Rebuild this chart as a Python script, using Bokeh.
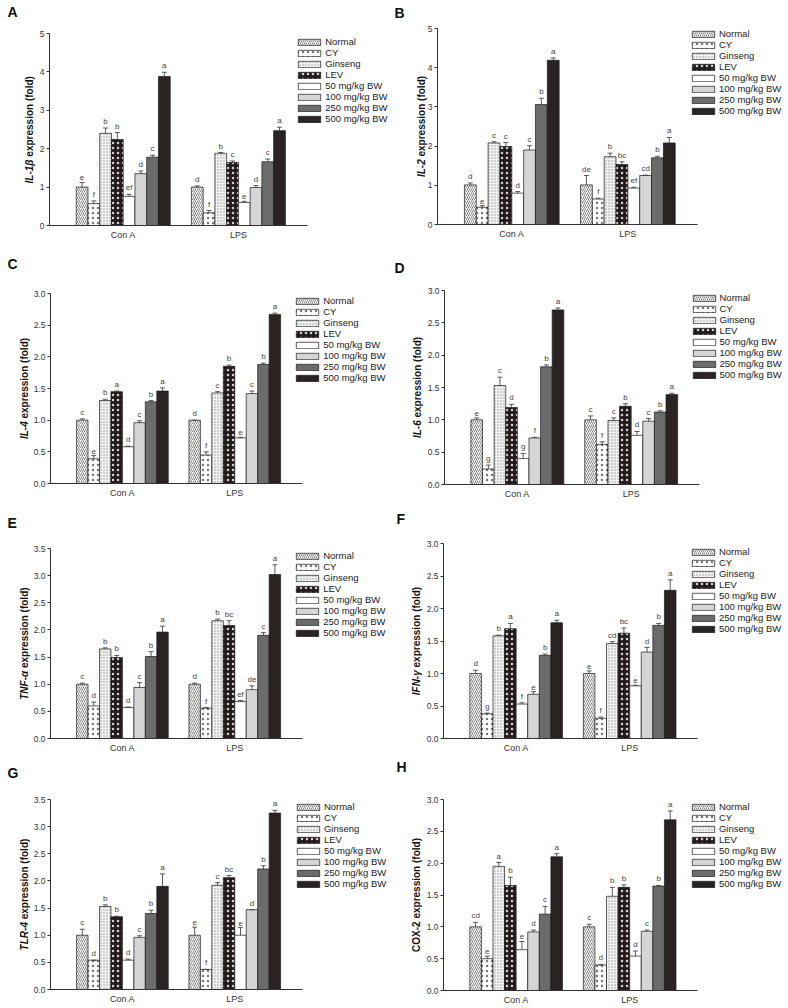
import math
from bokeh.plotting import figure
from bokeh.models import (Range1d, FixedTicker, Label, Whisker, TeeHead,
                          ColumnDataSource, NumeralTickFormatter)
from bokeh.layouts import column, row
from bokeh.embed import file_html
from bokeh.resources import INLINE
from bokeh.core.properties import value

# ---------------- data ----------------
groups = ["Con A", "LPS"]
series = ["Normal", "CY", "Ginseng", "LEV", "50 mg/kg BW", "100 mg/kg BW",
          "250 mg/kg BW", "500 mg/kg BW"]

ticks_int5 = [0, 1, 2, 3, 4, 5]
ticks_30 = [0.0, 0.5, 1.0, 1.5, 2.0, 2.5, 3.0]
ticks_35 = [0.0, 0.5, 1.0, 1.5, 2.0, 2.5, 3.0, 3.5]

# A  IL-1beta
il1b_cona = [1.00, 0.57, 2.40, 2.24, 0.76, 1.35, 1.78, 3.88]
il1b_cona_err = [0.12, 0.07, 0.14, 0.18, 0.05, 0.07, 0.05, 0.11]
il1b_cona_sig = ["e", "f", "b", "b", "ef", "d", "c", "a"]
il1b_lps = [1.00, 0.33, 1.88, 1.64, 0.60, 0.99, 1.66, 2.47]
il1b_lps_err = [0.03, 0.06, 0.02, 0.04, 0.03, 0.05, 0.07, 0.09]
il1b_lps_sig = ["d", "f", "b", "c", "e", "d", "c", "a"]

# B  IL-2
il2_cona = [1.01, 0.44, 2.08, 1.99, 0.80, 1.90, 3.06, 4.19]
il2_cona_err = [0.05, 0.04, 0.03, 0.10, 0.04, 0.11, 0.16, 0.06]
il2_cona_sig = ["d", "e", "c", "c", "d", "c", "b", "a"]
il2_lps = [1.01, 0.65, 1.73, 1.53, 0.93, 1.25, 1.70, 2.08]
il2_lps_err = [0.24, 0.02, 0.09, 0.07, 0.02, 0.01, 0.04, 0.14]
il2_lps_sig = ["de", "f", "b", "bc", "ef", "cd", "b", "a"]

# C  IL-4
il4_cona = [1.00, 0.39, 1.31, 1.45, 0.58, 0.96, 1.29, 1.46]
il4_cona_err = [0.02, 0.05, 0.02, 0.01, 0.01, 0.03, 0.02, 0.05]
il4_cona_sig = ["c", "e", "b", "a", "d", "c", "b", "a"]
il4_lps = [1.00, 0.45, 1.43, 1.85, 0.72, 1.42, 1.88, 2.67]
il4_lps_err = [0.00, 0.05, 0.02, 0.02, 0.01, 0.04, 0.02, 0.02]
il4_lps_sig = ["d", "f", "c", "b", "e", "c", "b", "a"]

# D  IL-6
il6_cona = [1.00, 0.24, 1.53, 1.19, 0.40, 0.72, 1.82, 2.70]
il6_cona_err = [0.03, 0.06, 0.13, 0.05, 0.08, 0.01, 0.03, 0.03]
il6_cona_sig = ["e", "g", "c", "d", "g", "f", "b", "a"]
il6_lps = [1.00, 0.62, 0.99, 1.21, 0.76, 0.98, 1.12, 1.39]
il6_lps_err = [0.06, 0.04, 0.04, 0.04, 0.06, 0.04, 0.02, 0.02]
il6_lps_sig = ["c", "f", "c", "b", "d", "c", "b", "a"]

# E  TNF-alpha
tnf_cona = [1.00, 0.60, 1.65, 1.49, 0.57, 0.94, 1.51, 1.96]
tnf_cona_err = [0.02, 0.07, 0.02, 0.04, 0.01, 0.09, 0.09, 0.11]
tnf_cona_sig = ["c", "d", "b", "b", "d", "c", "b", "a"]
tnf_lps = [1.00, 0.56, 2.17, 2.08, 0.68, 0.90, 1.90, 3.02]
tnf_lps_err = [0.02, 0.01, 0.03, 0.09, 0.02, 0.07, 0.05, 0.18]
tnf_lps_sig = ["d", "f", "b", "bc", "ef", "de", "c", "a"]

# F  IFN-gamma
ifn_cona = [1.00, 0.38, 1.58, 1.69, 0.53, 0.68, 1.28, 1.78]
ifn_cona_err = [0.05, 0.01, 0.01, 0.08, 0.02, 0.04, 0.02, 0.04]
ifn_cona_sig = ["d", "g", "b", "a", "f", "e", "b", "a"]
ifn_lps = [1.00, 0.31, 1.46, 1.62, 0.81, 1.33, 1.74, 2.28]
ifn_lps_err = [0.04, 0.02, 0.03, 0.08, 0.01, 0.07, 0.03, 0.16]
ifn_lps_sig = ["e", "f", "cd", "bc", "e", "d", "b", "a"]

# G  TLR-4
tlr_cona = [1.00, 0.54, 1.53, 1.34, 0.54, 0.96, 1.40, 1.90]
tlr_cona_err = [0.11, 0.00, 0.03, 0.01, 0.02, 0.03, 0.06, 0.23]
tlr_cona_sig = ["c", "d", "b", "b", "d", "c", "b", "a"]
tlr_lps = [1.00, 0.37, 1.92, 2.06, 1.00, 1.47, 2.22, 3.25]
tlr_lps_err = [0.15, 0.00, 0.05, 0.04, 0.14, 0.00, 0.06, 0.05]
tlr_lps_sig = ["e", "f", "c", "bc", "e", "d", "b", "a"]

# H  COX-2
cox_cona = [1.00, 0.50, 1.95, 1.65, 0.64, 0.92, 1.20, 2.10]
cox_cona_err = [0.07, 0.04, 0.06, 0.13, 0.13, 0.03, 0.12, 0.05]
cox_cona_sig = ["cd", "e", "a", "b", "e", "d", "c", "a"]
cox_lps = [1.00, 0.40, 1.48, 1.62, 0.54, 0.93, 1.64, 2.68]
cox_lps_err = [0.04, 0.01, 0.14, 0.04, 0.08, 0.02, 0.01, 0.14]
cox_lps_sig = ["c", "d", "b", "b", "d", "c", "b", "a"]

PANELS = [
    dict(letter="A", gene="IL-1β", italic=True, ymax=5, ticks=ticks_int5, fmt="0",
         cona=il1b_cona, cona_err=il1b_cona_err, cona_sig=il1b_cona_sig,
         lps=il1b_lps, lps_err=il1b_lps_err, lps_sig=il1b_lps_sig),
    dict(letter="B", gene="IL-2", italic=True, ymax=5, ticks=ticks_int5, fmt="0",
         cona=il2_cona, cona_err=il2_cona_err, cona_sig=il2_cona_sig,
         lps=il2_lps, lps_err=il2_lps_err, lps_sig=il2_lps_sig),
    dict(letter="C", gene="IL-4", italic=True, ymax=3.0, ticks=ticks_30, fmt="0.0",
         cona=il4_cona, cona_err=il4_cona_err, cona_sig=il4_cona_sig,
         lps=il4_lps, lps_err=il4_lps_err, lps_sig=il4_lps_sig),
    dict(letter="D", gene="IL-6", italic=True, ymax=3.0, ticks=ticks_30, fmt="0.0",
         cona=il6_cona, cona_err=il6_cona_err, cona_sig=il6_cona_sig,
         lps=il6_lps, lps_err=il6_lps_err, lps_sig=il6_lps_sig),
    dict(letter="E", gene="TNF-α", italic=True, ymax=3.5, ticks=ticks_35, fmt="0.0",
         cona=tnf_cona, cona_err=tnf_cona_err, cona_sig=tnf_cona_sig,
         lps=tnf_lps, lps_err=tnf_lps_err, lps_sig=tnf_lps_sig),
    dict(letter="F", gene="IFN-γ", italic=True, ymax=3.0, ticks=ticks_30, fmt="0.0",
         cona=ifn_cona, cona_err=ifn_cona_err, cona_sig=ifn_cona_sig,
         lps=ifn_lps, lps_err=ifn_lps_err, lps_sig=ifn_lps_sig),
    dict(letter="G", gene="TLR-4", italic=True, ymax=3.5, ticks=ticks_35, fmt="0.0",
         cona=tlr_cona, cona_err=tlr_cona_err, cona_sig=tlr_cona_sig,
         lps=tlr_lps, lps_err=tlr_lps_err, lps_sig=tlr_lps_sig),
    dict(letter="H", gene="COX-2", italic=False, ymax=3.0, ticks=ticks_30, fmt="0.0",
         cona=cox_cona, cona_err=cox_cona_err, cona_sig=cox_cona_sig,
         lps=cox_lps, lps_err=cox_lps_err, lps_sig=cox_lps_sig),
]

# ---------------- layout (page pixel positions) ----------------
FONT = "Liberation Sans"
COL_X = [0, 394]
ROW_Y = [0, 252, 506, 758]
ROW_H = [252, 254, 252, 250]
FIG_W = 394
# axis x, axis end, frame top, frame bottom, legend glyph left, legend first row centre,
# title centre x, letter left, letter centre y
LAYOUT = {
    "A": dict(ax=49, ae=307, top=33, bot=225, lgx=298, lgy=41.7, tx=29, lx=7, ly=11),
    "B": dict(ax=437, ae=697, top=28, bot=224, lgx=691.7, lgy=33.7, tx=421, lx=394, ly=12),
    "C": dict(ax=50, ae=301.7, top=293, bot=483, lgx=296, lgy=300.7, tx=24, lx=7, ly=263),
    "D": dict(ax=444, ae=699, top=290, bot=484, lgx=692.3, lgy=297.7, tx=416.5, lx=394, ly=267),
    "E": dict(ax=50, ae=301.7, top=548, bot=738, lgx=296, lgy=555.7, tx=24, lx=7, ly=522),
    "F": dict(ax=443, ae=697.3, top=543, bot=738, lgx=691.7, lgy=551.7, tx=415.5, lx=396, ly=518),
    "G": dict(ax=50, ae=301.7, top=799, bot=989, lgx=296.7, lgy=806.7, tx=24, lx=7, ly=772),
    "H": dict(ax=443, ae=697.3, top=799, bot=990, lgx=691.7, lgy=806.7, tx=415.5, lx=396, ly=766),
}
GENE_W = {"IL-1β": 23.5, "IL-2": 17.8, "IL-4": 17.8, "IL-6": 17.8, "TNF-α": 28.8,
          "IFN-γ": 24.9, "TLR-4": 28.3, "COX-2": 30.6}
EXPR_W = 80.6
GAP = 2.8

STYLES = [
    dict(fill_color="white", hatch_pattern="/", hatch_color="#333333", hatch_scale=4, hatch_weight=0.6),
    dict(fill_color="white", hatch_pattern="dot", hatch_color="#777777", hatch_scale=5, hatch_weight=0.1),
    dict(fill_color="#f2f2f2", hatch_pattern="dot", hatch_color="#999999", hatch_scale=3, hatch_weight=0.3),
    dict(fill_color="#231b1b", hatch_pattern="dot", hatch_color="#ffffff", hatch_scale=5, hatch_weight=0.1,
         hatch_alpha=0.8),
    dict(fill_color="white"),
    dict(fill_color="#d5d5d5"),
    dict(fill_color="#6b6b6b"),
    dict(fill_color="#2a2323"),
]

XSTART, XEND = 0.36, 2.6
BW = 0.102
GROUP_X = [1.0, 2.0]


def make_panel(spec, lay, cx, ry, rh):
    ppu = (lay["ae"] - lay["ax"]) / (XEND - XSTART)
    x0 = XSTART - (lay["ax"] - cx) / ppu
    x1 = XSTART + (cx + FIG_W - lay["ax"]) / ppu
    upp = spec["ymax"] / (lay["bot"] - lay["top"])
    y0 = -(ry + rh - lay["bot"]) * upp
    y1 = spec["ymax"] + (lay["top"] - ry) * upp

    p = figure(width=FIG_W, height=rh, output_backend="svg", toolbar_location=None,
               title=None, x_range=Range1d(x0, x1), y_range=Range1d(y0, y1),
               min_border_left=0, min_border_right=0,
               min_border_top=0, min_border_bottom=0)
    p.outline_line_color = None
    p.xgrid.visible = False
    p.ygrid.visible = False

    xs_all, tops_all, upp_all, sig_all = [], [], [], []
    for i, name in enumerate(series):
        off = (i - 3.5) * BW
        xs = [g + off for g in GROUP_X]
        tops = [spec["cona"][i], spec["lps"][i]]
        errs = [spec["cona_err"][i], spec["lps_err"][i]]
        sigs = [spec["cona_sig"][i], spec["lps_sig"][i]]
        src = ColumnDataSource(dict(x=xs, top=tops))
        p.vbar(x="x", top="top", bottom=0, width=BW, source=src,
               line_color="#1a1a1a", line_width=0.7, legend_label=name, **STYLES[i])
        xs_all += xs
        tops_all += tops
        upp_all += [t + e for t, e in zip(tops, errs)]
        sig_all += sigs

    esrc = ColumnDataSource(dict(x=xs_all, top=tops_all, upper=upp_all, sig=sig_all))
    w = Whisker(source=esrc, base="x", lower="top", upper="upper", dimension="height",
                line_color="#333333", line_width=0.8, level="overlay",
                upper_head=TeeHead(size=5, line_color="#333333", line_width=0.8),
                lower_head=None)
    p.add_layout(w)
    p.text(x="x", y="upper", text="sig", source=esrc, text_font=value(FONT),
           text_font_size="8px", text_align="center", text_baseline="bottom",
           y_offset=-2, text_color="#444444")

    # axes (fixed inside the frame)
    xa = p.xaxis[0]
    xa.fixed_location = 0
    xa.ticker = FixedTicker(ticks=GROUP_X)
    xa.major_label_overrides = {GROUP_X[0]: groups[0], GROUP_X[1]: groups[1]}
    xa.bounds = (XSTART, XEND)
    xa.major_tick_out = 0
    xa.major_tick_in = 0
    xa.minor_tick_out = 0
    xa.minor_tick_in = 0
    xa.major_label_standoff = 4
    xa.major_label_text_font = FONT
    xa.major_label_text_font_size = "9px"
    xa.major_label_text_color = "#333333"
    xa.axis_line_color = "#333333"

    ya = p.yaxis[0]
    ya.fixed_location = XSTART
    ya.bounds = (0, spec["ymax"])
    ya.ticker = FixedTicker(ticks=spec["ticks"])
    ya.formatter = NumeralTickFormatter(format=spec["fmt"])
    ya.major_tick_out = 3
    ya.major_tick_in = 0
    ya.minor_tick_out = 0
    ya.minor_tick_in = 0
    ya.major_label_standoff = 2
    ya.major_label_text_font = FONT
    ya.major_label_text_font_size = "8.5px"
    ya.major_label_text_color = "#333333"
    ya.axis_line_color = "#333333"
    ya.major_tick_line_color = "#333333"

    # legend
    lg = p.legend[0]
    gw, gh, rowh = 28, 8, 11
    lg.glyph_width = gw
    lg.glyph_height = gh
    lg.label_height = rowh
    lg.label_standoff = 2
    lg.padding = 0
    lg.margin = 0
    lg.spacing = 0
    lg.border_line_color = None
    lg.background_fill_alpha = 0
    lg.label_text_font = FONT
    lg.label_text_font_size = "9.5px"
    lg.label_text_color = "#222222"
    vx = lay["lgx"] - 0.1 * gw - cx
    vy = rh - (lay["lgy"] - rowh / 2 - ry) - 8 * rowh
    lg.location = (vx, vy)

    # panel letter
    p.add_layout(Label(x=lay["lx"] - cx, y=rh - (lay["ly"] - ry),
                       x_units="screen", y_units="screen", text=spec["letter"],
                       text_font=FONT, text_font_style="bold", text_font_size="14px",
                       text_align="left", text_baseline="middle", text_color="#111111"))

    # y title: gene (italic bold) + "expression (fold)" (bold)
    gw_txt = GENE_W[spec["gene"]]
    total = gw_txt + GAP + EXPR_W
    fb = rh - (lay["bot"] - ry)           # frame bottom in screen-from-bottom coords
    fh = lay["bot"] - lay["top"]
    seam = fb + fh / 2 - total / 2 + gw_txt
    tx = lay["tx"] - cx
    p.add_layout(Label(x=tx, y=seam, x_units="screen", y_units="screen", angle=math.pi / 2,
                       text=spec["gene"], text_font=FONT,
                       text_font_style="bold italic" if spec["italic"] else "bold",
                       text_font_size="10px", text_align="right", text_baseline="middle",
                       text_color="#111111"))
    p.add_layout(Label(x=tx, y=seam + GAP, x_units="screen", y_units="screen",
                       angle=math.pi / 2, text="expression (fold)", text_font=FONT,
                       text_font_style="bold", text_font_size="10px", text_align="left",
                       text_baseline="middle", text_color="#111111"))
    return p


rows = []
for r in range(4):
    figs = []
    for c in range(2):
        spec = PANELS[r * 2 + c]
        figs.append(make_panel(spec, LAYOUT[spec["letter"]], COL_X[c], ROW_Y[r], ROW_H[r]))
    rows.append(row(*figs))
layout = column(*rows)

open("out.html", "w").write(file_html(layout, INLINE))
